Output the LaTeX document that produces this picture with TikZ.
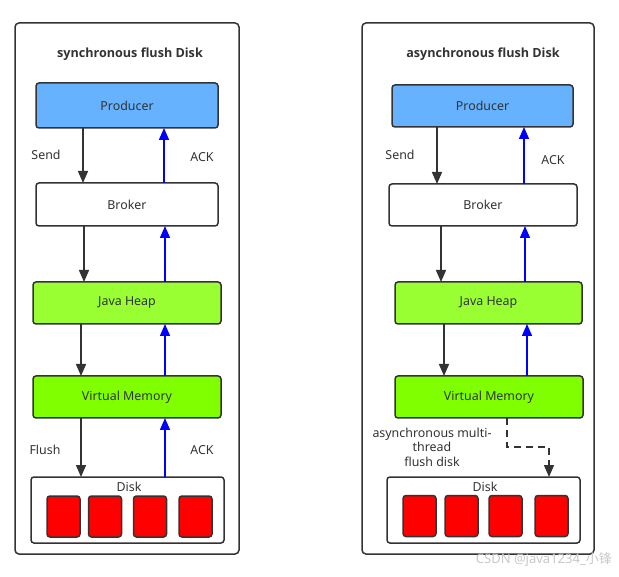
\documentclass[tikz,border=0pt]{standalone}
\usepackage{fontspec}
\setmainfont{Noto Sans}
\newfontfamily\ttlfont{Open Sans}
\newfontfamily\cjkfont{Noto Sans CJK SC}
\usetikzlibrary{arrows.meta}
\definecolor{stroke}{HTML}{333333}
\definecolor{prodc}{HTML}{66B2FF}
\definecolor{heapc}{HTML}{99FF33}
\definecolor{vmc}{HTML}{80FF00}
\definecolor{redc}{HTML}{FF0000}
\definecolor{ackc}{HTML}{0000FF}
\definecolor{wmc}{HTML}{C8C8C8}
\tikzset{
  box/.style={draw=stroke, line width=1.5pt, rounded corners=3pt, inner sep=0pt, outer sep=0pt, font=\fontsize{12.4}{14}\selectfont, text=stroke},
  panel/.style={draw=stroke, line width=1.5pt, rounded corners=4pt, inner sep=0pt, outer sep=0pt, minimum width=#1},
  cell/.style={draw=stroke, line width=1.5pt, rounded corners=3pt, fill=redc, minimum width=33pt, minimum height=41pt, inner sep=0pt, outer sep=0pt},
  darr/.style={draw=stroke, line width=1.5pt, -{Triangle[length=12pt,width=10pt]}},
  uarr/.style={draw=ackc, line width=1.5pt, -{Triangle[length=12pt,width=10pt]}},
  dasharr/.style={draw=stroke, line width=1.5pt, dashed, dash pattern=on 7pt off 5pt, -{Triangle[length=12pt,width=10pt]}},
  lbl/.style={font=\fontsize{12.4}{14}\selectfont, text=stroke, inner sep=0pt},
  ttl/.style={font=\ttlfont\bfseries\fontsize{12.6}{14}\selectfont, text=stroke, inner sep=0pt},
}
\begin{document}
\begin{tikzpicture}[x=1pt, y=-1pt]
\useasboundingbox (0,0) rectangle (619,577);
% panels
\node[panel=224pt, minimum height=531pt] (lp) at (127,288.5) {};
\node[panel=232pt, minimum height=531pt] (rp) at (478,288.5) {};
\node[ttl] (lt) at (130,54) {synchronous flush Disk};
\node[ttl] (rt) at (483,54) {asynchronous flush Disk};
% left column
\node[box, fill=prodc, minimum width=182pt, minimum height=45pt] (p1) at (127,105.5) {Producer};
\node[box, fill=white, minimum width=182pt, minimum height=43pt] (b1) at (127,204.5) {Broker};
\node[box, fill=heapc, minimum width=188pt, minimum height=42pt] (h1) at (127,303) {Java Heap};
\node[box, fill=vmc, minimum width=188pt, minimum height=42pt] (v1) at (127,397) {Virtual Memory};
\node[box, fill=white, minimum width=193pt, minimum height=66pt] (d1) at (127.5,510) {};
\node[lbl] (d1l) at (129,487) {Disk};
\node[cell] (c11) at (63.5,516.5) {};
\node[cell] (c12) at (105,516.5) {};
\node[cell] (c13) at (150,516.5) {};
\node[cell] (c14) at (195.5,516.5) {};
\draw[darr] ([xshift=-44pt]p1.south) -- ([xshift=-44pt]b1.north);
\draw[uarr] ([xshift=37pt]b1.north) -- ([xshift=37pt]p1.south);
\draw[darr] ([xshift=-43pt]b1.south) -- ([xshift=-43pt]h1.north);
\draw[uarr] ([xshift=38pt]h1.north) -- ([xshift=38pt]b1.south);
\draw[darr] ([xshift=-46pt]h1.south) -- ([xshift=-46pt]v1.north);
\draw[uarr] ([xshift=38pt]v1.north) -- ([xshift=38pt]h1.south);
\draw[darr] ([xshift=-46pt]v1.south) -- ([xshift=-46.5pt]d1.north);
\draw[uarr] ([xshift=37.5pt]d1.north) -- ([xshift=38pt]v1.south);
\node[lbl] (s1) at (46,155) {Send};
\node[lbl] (a1) at (202,157) {ACK};
\node[lbl] (f1) at (45,450) {Flush};
\node[lbl] (a2) at (202,450) {ACK};
% right column
\node[box, fill=prodc, minimum width=181pt, minimum height=42pt] (p2) at (482.5,106) {Producer};
\node[box, fill=white, minimum width=188pt, minimum height=42pt] (b2) at (483,205) {Broker};
\node[box, fill=heapc, minimum width=187pt, minimum height=42pt] (h2) at (488.5,303) {Java Heap};
\node[box, fill=vmc, minimum width=188pt, minimum height=42pt] (v2) at (489,397) {Virtual Memory};
\node[box, fill=white, minimum width=193pt, minimum height=66pt] (d2) at (483.5,510) {};
\node[lbl] (d2l) at (485,487) {Disk};
\node[cell] (c21) at (419.5,516) {};
\node[cell] (c22) at (461.5,516) {};
\node[cell] (c23) at (505.5,516) {};
\node[cell] (c24) at (551.5,516) {};
\draw[darr] ([xshift=-45.5pt]p2.south) -- ([xshift=-46pt]b2.north);
\draw[uarr] ([xshift=41pt]b2.north) -- ([xshift=41.5pt]p2.south);
\draw[darr] ([xshift=-42pt]b2.south) -- ([xshift=-47.5pt]h2.north);
\draw[uarr] ([xshift=36.5pt]h2.north) -- ([xshift=42pt]b2.south);
\draw[darr] ([xshift=-44.5pt]h2.south) -- ([xshift=-45pt]v2.north);
\draw[uarr] ([xshift=38pt]v2.north) -- ([xshift=38.5pt]h2.south);
\coordinate (k1) at (507,447);
\coordinate (k2) at (549,447);
\draw[dasharr] ([xshift=18pt]v2.south) -- (k1) -- (k2) -- ([xshift=65.5pt]d2.north);
\node[lbl] (s2) at (400,155) {Send};
\node[lbl] (a3) at (553,160) {ACK};
\node[lbl, align=center, font=\fontsize{12.4}{14.5}\selectfont] (at) at (432,447) {asynchronous multi-\\thread\\flush disk};
% watermark
\node[inner sep=0pt, text=wmc, font=\fontsize{13}{15}\selectfont, anchor=east] (wm) at (612,560) {CSDN @java1234\_{\cjkfont 小锋}};
\end{tikzpicture}
\end{document}
